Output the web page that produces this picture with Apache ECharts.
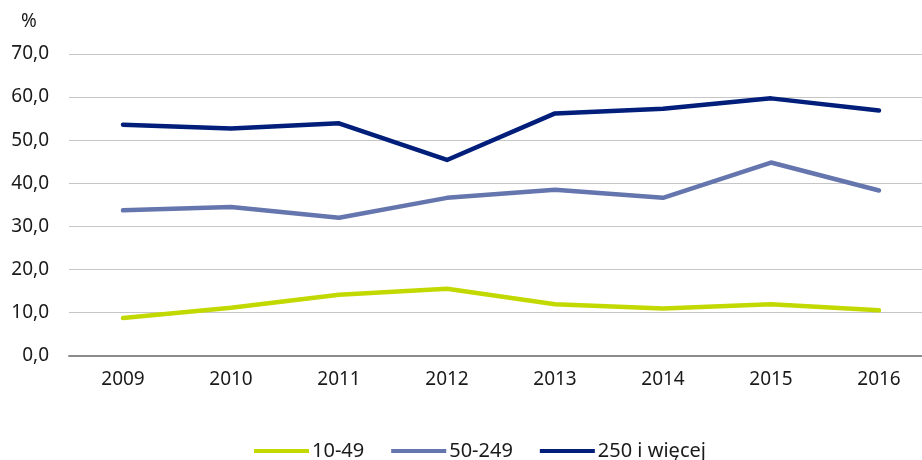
<!DOCTYPE html>
<html>
<head>
<meta charset="utf-8">
<script src="https://cdn.jsdelivr.net/npm/echarts@6/dist/echarts.min.js"></script>
<style>
  html, body { margin: 0; padding: 0; background: #fff; overflow: hidden; }
  /* kontener szerszy od okna - oryginalny wykres jest przycięty z prawej */
  #chart { width: 933px; height: 460px; }
</style>
</head>
<body>
<div id="chart"></div>
<script>
  // dane
  const years = ['2009', '2010', '2011', '2012', '2013', '2014', '2015', '2016'];
  const small = [8.7, 11.1, 14.1, 15.5, 11.9, 10.9, 11.9, 10.5];      // 10-49
  const medium = [33.7, 34.5, 32.0, 36.6, 38.5, 36.6, 44.8, 38.3];    // 50-249
  const large = [53.6, 52.7, 53.9, 45.4, 56.2, 57.3, 59.7, 56.9];     // 250 i więcej
  const seriesNames = ['10-49', '50-249', '250 i więcej'];

  const font = 'Noto Sans';
  const chart = echarts.init(document.getElementById('chart'));

  const mkLine = (name, data, color) => ({
    name: name,
    type: 'line',
    data: data,
    showSymbol: false,
    symbol: 'none',
    lineStyle: { color: color, width: 4.5, cap: 'round', join: 'round' },
    itemStyle: { color: color },
    emphasis: { disabled: true }
  });

  chart.setOption({
    animation: false,
    title: {
      text: '%',
      left: 16,
      top: 7,
      textStyle: { fontFamily: font, fontSize: 19, fontWeight: 'normal', color: '#1a1a1a' }
    },
    grid: { left: 69, right: 0, top: 54, bottom: 104.5 },
    legend: {
      left: 254,
      top: 441,
      padding: 0,
      icon: 'rect',
      itemWidth: 55,
      itemHeight: 4,
      itemGap: 27,
      textStyle: { fontFamily: font, fontSize: 20, color: '#1a1a1a', padding: [0, 0, 0, -2] },
      data: seriesNames
    },
    xAxis: {
      type: 'category',
      data: years,
      boundaryGap: true,
      axisTick: { show: false },
      axisLine: { show: true, lineStyle: { color: '#8c8c8c', width: 2 } },
      axisLabel: { fontFamily: font, fontSize: 19, color: '#1a1a1a', margin: 15 }
    },
    yAxis: {
      type: 'value',
      min: 0,
      max: 70,
      interval: 10,
      axisLine: { show: false },
      axisTick: { show: false },
      splitLine: { lineStyle: { color: '#c6c6c6', width: 1 } },
      axisLabel: {
        fontFamily: font, fontSize: 19, color: '#1a1a1a', margin: 20,
        formatter: v => v.toFixed(1).replace('.', ',')
      }
    },
    series: [
      mkLine(seriesNames[0], small, '#c2d900'),
      mkLine(seriesNames[1], medium, '#6575ad'),
      mkLine(seriesNames[2], large, '#001e7a')
    ]
  });
</script>
</body>
</html>
